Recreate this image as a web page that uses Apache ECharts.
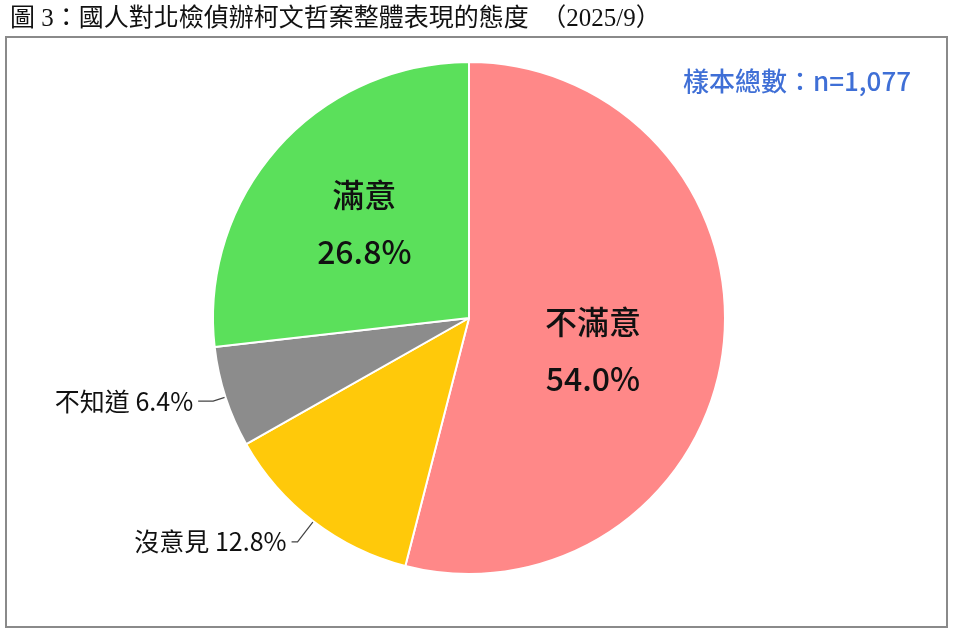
<!DOCTYPE html>
<html>
<head>
<meta charset="utf-8">
<script src="https://cdn.jsdelivr.net/npm/echarts@6/dist/echarts.min.js"></script>
<style>
  html, body { margin: 0; padding: 0; background: #fff; }
  #main { width: 953px; height: 630px; }
</style>
</head>
<body>
<div id="main"></div>
<script>
var categories = ['不滿意', '沒意見', '不知道', '滿意'];
var values = [54.0, 12.8, 6.4, 26.8];
var colors = ['#FF8888', '#FFC90A', '#8C8C8C', '#5BE05B'];
var insideNames = ['不滿意', '滿意'];

var sansFont = '"Noto Sans CJK TC", "Noto Sans", sans-serif';
var myChart = echarts.init(document.getElementById('main'));

// leader line lengths for the outside labels
var leaders = { '沒意見': [26, 6], '不知道': [13, 15] };

var data = categories.map(function (name, i) {
    var inside = insideNames.indexOf(name) >= 0;
    var item = {
        name: name,
        value: values[i],
        itemStyle: { color: colors[i] }
    };
    if (inside) {
        item.label = {
            position: 'inside',
            fontFamily: sansFont,
            fontSize: 32,
            fontWeight: 500,
            lineHeight: 57,
            formatter: function (p) { return p.name + '\n' + p.value.toFixed(1) + '%'; }
        };
        item.labelLine = { show: false };
    } else {
        item.label = {
            position: 'outside',
            fontFamily: sansFont,
            fontSize: 25,
            formatter: function (p) { return p.name + ' ' + p.value.toFixed(1) + '%'; }
        };
        item.labelLine = { show: true, length: leaders[name][0], length2: leaders[name][1] };
    }
    return item;
});

// small nudges so inside labels sit where the reference has them
var nudge = { '不滿意': [-6, 16], '滿意': [-7, -7] };

option = {
    animation: false,
    title: {
        text: '圖 3：國人對北檢偵辦柯文哲案整體表現的態度　（2025/9）',
        left: 5,
        top: 2,
        textStyle: {
            fontFamily: '"Liberation Serif", "Noto Sans CJK TC", serif',
            fontSize: 25,
            fontWeight: 'normal',
            color: '#111'
        }
    },
    graphic: [
        {
            type: 'rect',
            shape: { x: 6, y: 37, width: 941, height: 590 },
            style: { fill: 'none', stroke: '#8a8a8a', lineWidth: 2 },
            z: -1
        },
        {
            type: 'text',
            left: 683,
            top: 68,
            style: {
                text: '樣本總數：n=1,077',
                fontFamily: sansFont,
                fontSize: 26,
                fontWeight: 500,
                fill: '#3F6FD6'
            }
        }
    ],
    series: [
        {
            name: '態度',
            type: 'pie',
            center: [469, 318],
            radius: 256,
            startAngle: 90,
            clockwise: true,
            data: data,
            itemStyle: { borderColor: '#fff', borderWidth: 2 },
            label: {
                color: '#111',
                fontFamily: sansFont
            },
            labelLine: {
                lineStyle: { color: '#444', width: 1.2 }
            },
            labelLayout: function (params) {
                var n = nudge[categories[params.dataIndex]];
                if (n) return { dx: n[0], dy: n[1] };
                return {};
            },
            emphasis: { disabled: true }
        }
    ]
};

myChart.setOption(option);
</script>
</body>
</html>
